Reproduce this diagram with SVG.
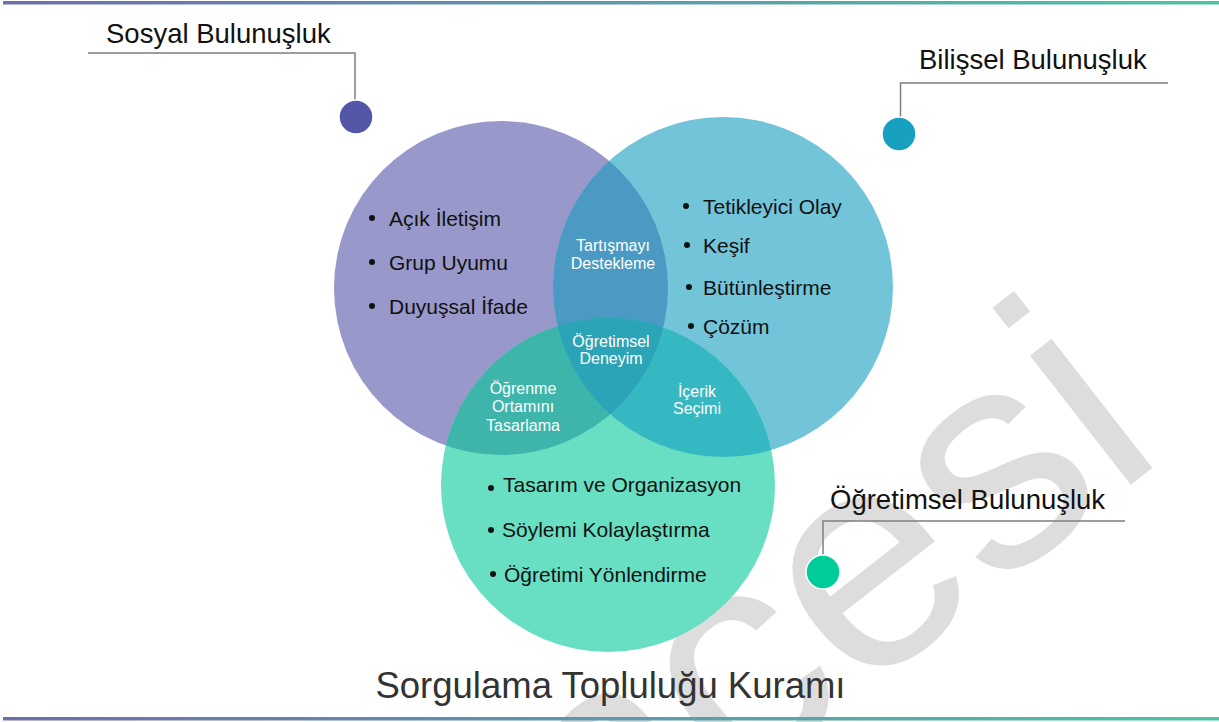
<svg xmlns="http://www.w3.org/2000/svg" width="1219" height="722" viewBox="0 0 1219 722">
  <defs>
    <linearGradient id="bar" x1="0" y1="0" x2="1" y2="0">
      <stop offset="0" stop-color="#6F6FA9"/>
      <stop offset="0.5" stop-color="#5E98AE"/>
      <stop offset="1" stop-color="#4CC4A2"/>
    </linearGradient>
    <clipPath id="cpP"><circle cx="501" cy="288" r="167"/></clipPath>
    <clipPath id="cpB"><circle cx="723" cy="287" r="170"/></clipPath>
    <style>
      .lbl{font-family:"Liberation Sans",Arial,sans-serif;font-size:27.5px;fill:#111}
      .item{font-family:"Liberation Sans",Arial,sans-serif;font-size:21px;fill:#111}
      .lens{font-family:"Liberation Sans",Arial,sans-serif;font-size:16px;fill:#fff;text-anchor:middle}
      .title{font-family:"Liberation Sans",Arial,sans-serif;font-size:36.5px;fill:#333;text-anchor:middle}
      .wm{font-family:"Liberation Sans",Arial,sans-serif;font-size:310px;fill:#DDDDDD}
      .lead{fill:none;stroke:#7F7F7F;stroke-width:1.5}
      .dot{stroke:#fff;stroke-width:1.5}
      .bul{fill:#111}
    </style>
  </defs>
  <rect x="0" y="0" width="1219" height="722" fill="#fff"/>
  <!-- watermark -->
  <text class="wm" transform="translate(1142,476) rotate(-38)" x="34" y="0" text-anchor="end">ncesi</text>
  <!-- borders -->
  <rect x="3" y="1" width="1216" height="3.5" fill="url(#bar)"/>
  <rect x="3" y="717" width="1216" height="3.5" fill="url(#bar)"/>

  <g id="venn">
    <g id="circle-sosyal"><circle cx="501" cy="288" r="167" fill="#9898CA"/></g>
    <g id="circle-bilissel"><circle cx="723" cy="287" r="170" fill="#72C4D9"/></g>
    <g id="circle-ogretimsel"><circle cx="608" cy="485" r="167" fill="#68DFC3"/></g>
    <g id="lens-sb"><circle cx="723" cy="287" r="170" fill="#4A9AC3" clip-path="url(#cpP)"/></g>
    <g id="lens-sg"><circle cx="608" cy="485" r="167" fill="#3EB5AA" clip-path="url(#cpP)"/></g>
    <g id="lens-bg"><circle cx="608" cy="485" r="167" fill="#35B8C1" clip-path="url(#cpB)"/></g>
    <g id="lens-all" clip-path="url(#cpP)"><circle cx="608" cy="485" r="167" fill="#2AA4B6" clip-path="url(#cpB)"/></g>
  </g>

  <g id="connectors">
    <polyline class="lead" points="88,53 355,53 355,100"/>
    <polyline class="lead" points="1168,83 900.5,83 900.5,117"/>
    <polyline class="lead" points="1125,521 823,521 823,555"/>
  </g>

  <g id="node-sosyal-label">
    <text class="lbl" x="106" y="43">Sosyal Bulunuşluk</text>
    <circle class="dot" cx="356" cy="117" r="17" fill="#5457A7"/>
  </g>
  <g id="node-bilissel-label">
    <text class="lbl" x="919" y="69">Bilişsel Bulunuşluk</text>
    <circle class="dot" cx="899" cy="134" r="17" fill="#17A0C0"/>
  </g>
  <g id="node-ogretimsel-label">
    <text class="lbl" x="830" y="509">Öğretimsel Bulunuşluk</text>
    <circle class="dot" cx="823" cy="572" r="17" fill="#00CC99"/>
  </g>

  <g id="node-sosyal-items">
    <circle class="bul" cx="372" cy="218" r="3"/>
    <text class="item" x="389" y="226">Açık İletişim</text>
    <circle class="bul" cx="372" cy="262" r="3"/>
    <text class="item" x="389" y="270">Grup Uyumu</text>
    <circle class="bul" cx="372" cy="306" r="3"/>
    <text class="item" x="389" y="314">Duyuşsal İfade</text>
  </g>
  <g id="node-bilissel-items">
    <circle class="bul" cx="686" cy="206" r="3"/>
    <text class="item" x="703" y="214">Tetikleyici Olay</text>
    <circle class="bul" cx="687" cy="245" r="3"/>
    <text class="item" x="703" y="253">Keşif</text>
    <circle class="bul" cx="689" cy="287" r="3"/>
    <text class="item" x="703" y="295">Bütünleştirme</text>
    <circle class="bul" cx="691" cy="326" r="3"/>
    <text class="item" x="703" y="334">Çözüm</text>
  </g>
  <g id="node-ogretimsel-items">
    <circle class="bul" cx="491" cy="488" r="3"/>
    <text class="item" x="503" y="492">Tasarım ve Organizasyon</text>
    <circle class="bul" cx="491" cy="530" r="3"/>
    <text class="item" x="502" y="537">Söylemi Kolaylaştırma</text>
    <circle class="bul" cx="493" cy="574" r="3"/>
    <text class="item" x="504" y="582">Öğretimi Yönlendirme</text>
  </g>

  <g id="node-tartisma">
    <text class="lens" x="613" y="251">Tartışmayı</text>
    <text class="lens" x="613" y="269">Destekleme</text>
  </g>
  <g id="node-deneyim">
    <text class="lens" x="611" y="347">Öğretimsel</text>
    <text class="lens" x="611" y="364">Deneyim</text>
  </g>
  <g id="node-ortam">
    <text class="lens" x="523" y="394">Öğrenme</text>
    <text class="lens" x="523" y="412">Ortamını</text>
    <text class="lens" x="523" y="431">Tasarlama</text>
  </g>
  <g id="node-icerik">
    <text class="lens" x="697" y="397">İçerik</text>
    <text class="lens" x="697" y="414">Seçimi</text>
  </g>

  <g id="title">
    <text class="title" x="610.5" y="698">Sorgulama Topluluğu Kuramı</text>
  </g>
</svg>
